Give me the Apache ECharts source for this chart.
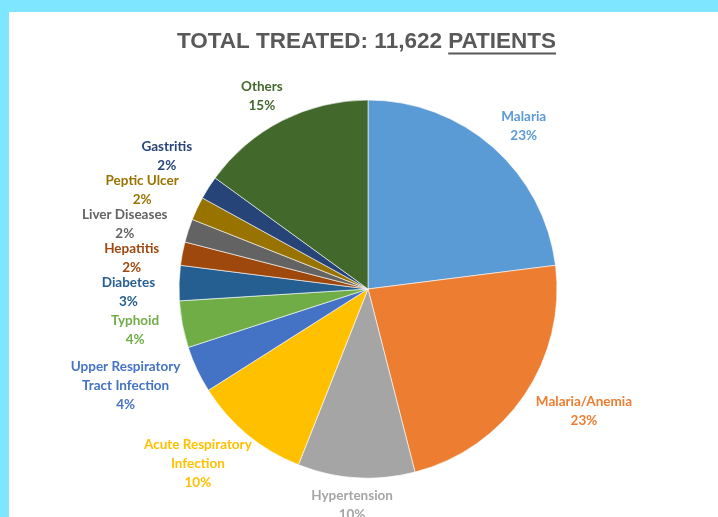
<!DOCTYPE html>
<html><head><meta charset="utf-8">
<script src="https://cdn.jsdelivr.net/npm/echarts@6/dist/echarts.min.js"></script>
<style>
html,body{margin:0;padding:0;background:#7FE6FF;overflow:hidden;}
#panel{position:absolute;left:9px;top:12px;width:709px;height:505px;background:#fff;}
#c{position:absolute;left:0;top:0;width:718px;height:517px;}
</style>
</head><body><div id="panel"></div><div id="c"></div>
<script>
const categories = ['Malaria','Malaria/Anemia','Hypertension','Acute Respiratory Infection','Upper Respiratory Tract Infection','Typhoid','Diabetes','Hepatitis','Liver Diseases','Peptic Ulcer','Gastritis','Others'];
const labelNames = ['Malaria','Malaria/Anemia','Hypertension','Acute Respiratory\nInfection','Upper Respiratory\nTract Infection','Typhoid','Diabetes','Hepatitis','Liver Diseases','Peptic Ulcer','Gastritis','Others'];
const values = [23,23,10,10,4,4,3,2,2,2,2,15];
const colors = ['#5B9BD5','#ED7D31','#A5A5A5','#FFC000','#4472C4','#70AD47','#255E91','#9E480E','#636363','#997300','#264478','#43682B'];
const titleMain = 'TOTAL TREATED: 11,622 ';
const titleUnder = 'PATIENTS';

const CX = 368, CY = 289, R = 189, GAP_X = 24, GAP_Y = 9;
const LFONT = 'Lato', LSIZE = 13.5, LINE_H = 19;
const TFONT = '"Liberation Sans Narrow", "Arial Narrow", sans-serif', TSIZE = 22.5;
const TCENTER = 366.5, TTOP = 30;

const total = values.reduce((a, b) => a + b, 0);
const ctx = document.createElement('canvas').getContext('2d');
ctx.font = 'bold ' + LSIZE + 'px ' + LFONT;

const pos = [];
let cum = 0;
values.forEach((v, i) => {
  const mid = (cum + v / 2) / total * 2 * Math.PI; cum += v;
  const s = Math.sin(mid), c = Math.cos(mid);
  const lines = (labelNames[i] + '\n' + Math.round(v / total * 100) + '%').split('\n');
  const w = Math.max(...lines.map(l => ctx.measureText(l).width));
  const h = lines.length * LINE_H;
  pos.push({ x: CX + s * (R + GAP_X) + s * w / 2, y: CY - c * (R + GAP_Y) - c * h / 2, w, h });
});
for (let it = 0; it < 300; it++) {
  for (let i = 0; i < pos.length; i++) for (let j = i + 1; j < pos.length; j++) {
    const a = pos[i], b = pos[j];
    if (Math.abs(a.x - b.x) < (a.w + b.w) / 2 + 4) {
      const need = (a.h + b.h) / 2 - 4;
      const dy = b.y - a.y;
      if (Math.abs(dy) < need) {
        const sg = dy >= 0 ? 1 : -1;
        const d = (need - Math.abs(dy)) / 2;
        a.y -= sg * d; b.y += sg * d;
      }
    }
  }
}

ctx.font = 'bold ' + TSIZE + 'px ' + TFONT;
const wMain = ctx.measureText(titleMain).width;
const wUnder = ctx.measureText(titleUnder).width;
const tLeft = TCENTER - (wMain + wUnder) / 2;

const chart = echarts.init(document.getElementById('c'));
chart.setOption({
  animation: false,
  title: {
    text: '{a|' + titleMain + '}{a|' + titleUnder + '}',
    left: tLeft, top: TTOP, padding: 0,
    textStyle: { rich: { a: { fontFamily: TFONT, fontWeight: 'bold', fontSize: TSIZE, color: '#595959' } } }
  },
  graphic: [{
    type: 'line', z: 10,
    shape: { x1: tLeft + wMain, y1: TTOP + TSIZE + 1, x2: tLeft + wMain + wUnder, y2: TTOP + TSIZE + 1 },
    style: { stroke: '#595959', lineWidth: 2 }
  }],
  series: [{
    type: 'pie',
    center: [CX, CY], radius: R,
    startAngle: 90, clockwise: true,
    avoidLabelOverlap: false,
    itemStyle: { borderColor: '#fff', borderWidth: 0.6 },
    label: {
      show: true, position: 'outside',
      fontFamily: LFONT, fontWeight: 'bold', fontSize: LSIZE, lineHeight: LINE_H,
      formatter: p => labelNames[p.dataIndex] + '\n' + p.percent + '%'
    },
    labelLine: { show: false },
    labelLayout: p => { const q = pos[p.dataIndex]; return { x: q.x, y: q.y, align: 'center', verticalAlign: 'middle' }; },
    data: categories.map((n, i) => ({ name: n, value: values[i], itemStyle: { color: colors[i] }, label: { color: colors[i] } }))
  }]
});
</script>
</body></html>
